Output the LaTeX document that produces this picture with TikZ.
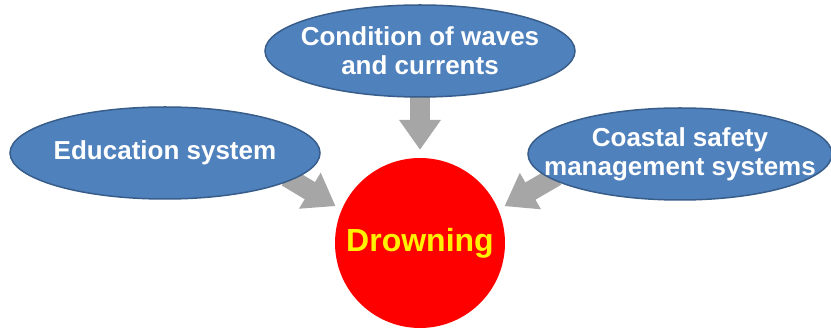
\documentclass[tikz,border=0pt]{standalone}
\usepackage{fontspec}
\setmainfont{Liberation Sans}
\usetikzlibrary{arrows.meta, shapes.geometric, backgrounds}

\definecolor{factorblue}{RGB}{79,129,189}
\definecolor{factorline}{RGB}{56,93,138}
\definecolor{arrowgray}{RGB}{166,166,166}

\tikzset{
    factor/.style={ellipse, draw=factorline, line width=1.5pt, fill=factorblue,
        minimum width=310pt, minimum height=92pt, inner xsep=-40pt, inner ysep=0pt,
        text=white, align=center, font=\fontsize{26}{29}\selectfont\bfseries},
    flow/.style={line width=20pt, arrowgray, shorten <=-6pt, shorten >=7pt,
        -{Triangle[width=40pt, length=30pt]}}
}

\begin{document}
\begin{tikzpicture}[x=1pt, y=-1pt]
    \useasboundingbox (0,0) rectangle (831,328);

    % Central outcome
    \node[circle, fill=red, minimum size=170pt, inner sep=0pt,
        text=yellow, font=\fontsize{32}{36}\selectfont\bfseries] (drown) at (420,243) {Drowning};

    % Contributing factors
    \node[factor] (cond) at (420,51) {Condition of waves\\and currents};
    \node[factor] (edu) at (165,153) {Education system};
    \node[factor, minimum width=304pt] (coast) at (680,154) {Coastal safety\\management systems};

    % Block arrows behind the ellipses
    \begin{scope}[on background layer]
        \draw[flow, shorten >=8pt] (cond.south) -- (drown.north);
        \draw[flow] (edu.-12) -- (drown.157);
        \draw[flow] (coast.191) -- (drown.23);
    \end{scope}
\end{tikzpicture}
\end{document}
